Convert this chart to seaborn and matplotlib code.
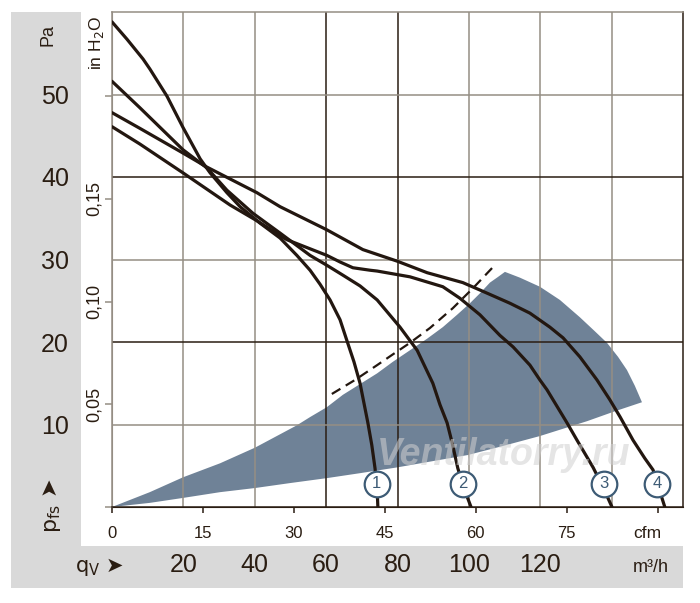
import matplotlib
matplotlib.use("Agg")
import matplotlib.pyplot as plt
from matplotlib.patches import Rectangle
import seaborn as sns
import pandas as pd

# fan curves: flow q in m³/h, pressure p in Pa
c1_q = [0, 4.2, 8.7, 10.6, 15.4, 19.9, 24.7, 27.5, 32.2, 35.9, 41.5, 47.1, 51.8, 55.5, 58.3,
        61.1, 63.9, 65.8, 67.8, 69.5, 70.6, 71.7, 72.8, 73.7, 74.3, 74.5]
c1_p = [58.8, 56.7, 54.3, 53.1, 49.8, 46.0, 42.2, 40.5, 38.1, 36.4, 34.4, 32.6, 30.5, 28.7, 27.0,
        25.1, 22.7, 20.2, 17.6, 15.0, 12.6, 10.2, 7.5, 4.7, 2.1, 0]
c2_q = [0, 7.8, 19.9, 26.6, 32.2, 39.5, 47.1, 55.5, 60.2, 64.7, 69.5, 74.3, 80.7, 85.5, 89.9,
        91.9, 93.9, 95.3, 96.9, 98.6, 100.6]
c2_p = [51.6, 48.4, 43.3, 41.1, 38.4, 35.6, 33.2, 30.5, 29.3, 28.1, 26.8, 25.1, 21.8, 19.0, 15.0,
        12.4, 10.2, 7.8, 4.7, 2.3, 0]
c3_q = [0, 7.8, 19.9, 33.1, 40.6, 47.1, 49.0, 60.2, 63.9, 67.5, 72.3, 74.3, 83.5, 92.7, 97.5,
        103.1, 108.7, 112.4, 117.1, 119.9, 121.9, 127.5, 130.3, 134.8, 137.6, 140.1]
c3_p = [46.1, 44.0, 40.5, 36.6, 34.7, 32.9, 32.4, 30.5, 29.7, 29.0, 28.7, 28.6, 27.9, 26.7, 25.3,
        23.3, 20.8, 19.4, 17.2, 15.4, 14.2, 10.2, 8.1, 4.8, 2.4, 0]
c4_q = [0, 7.8, 19.9, 26.6, 40.6, 47.1, 60.2, 70.3, 79.9, 88.3, 98.3, 103.1, 111.5, 117.1, 122.7,
        126.4, 131.1, 135.9, 139.5, 142.4, 146.0, 149.3, 151.6, 152.7, 154.9]
c4_p = [47.8, 45.9, 42.9, 41.2, 38.1, 36.4, 33.6, 31.2, 29.8, 28.4, 27.2, 26.3, 24.7, 23.5, 21.8,
        20.5, 18.2, 15.4, 13.0, 10.9, 8.1, 5.9, 4.5, 3.0, 0]

# shaded operating range: upper edge, outer arc, lower edge back to origin
area_q = [0, 10.6, 19.9, 30.3, 40.1, 47.9, 51.8, 55.5, 60.2, 64.7, 69.5, 74.3, 78.7, 83.5, 88.3,
          92.7, 96.7, 100.3, 103.1, 105.9, 108.2, 110.1,
          114.3, 119.9, 125.5, 131.1, 135.3, 138.7, 141.8, 144.3, 146.5, 148.5,
          140.9, 133.1, 119.9, 108.7, 99.7, 89.1, 79.9, 69.5, 60.2, 49.9, 40.1, 30.3, 19.9, 10.6, 0]
area_p = [0, 1.8, 3.6, 5.3, 7.2, 9.0, 9.9, 10.9, 12.1, 13.6, 14.9, 16.2, 17.6, 19.0, 20.4,
          21.8, 23.3, 24.7, 25.9, 27.2, 27.9, 28.5,
          27.8, 26.7, 25.1, 23.0, 21.3, 19.9, 18.2, 16.6, 14.7, 12.7,
          11.6, 10.4, 8.6, 7.3, 6.3, 5.5, 4.8, 4.1, 3.5, 2.9, 2.3, 1.8, 1.1, 0.5, 0]

# dashed limit line
dash_q = [61.6, 68.1, 74.3, 78.7, 83.5, 89.1, 95.5, 101.1, 106.8]
dash_p = [13.7, 15.4, 17.2, 18.5, 19.9, 21.7, 24.1, 26.5, 29.1]

# curve number markers
label_txt = ["1", "2", "3", "4"]
label_q = [74.2, 98.3, 137.9, 152.7]
label_p = [2.8, 2.8, 2.8, 2.8]

pa_ticks = [10, 20, 30, 40, 50]
q_ticks = [20, 40, 60, 80, 100, 120]
cfm_ticks = [0, 15, 30, 45, 60, 75, 90]
cfm_labels = ["0", "15", "30", "45", "60", "75", ""]
inh_ticks = [0, 0.05, 0.10, 0.15, 0.20]
inh_labels = ["", "0,05", "0,10", "0,15", ""]

CFM = 1.699      # m³/h per cfm
INH2O = 249.09   # Pa per inch of water

dark = "#2a1d12"
grey = "#958e84"
blue = "#3d5b75"
fill = "#6f8297"
sans = ["Liberation Sans", "DejaVu Sans"]

sns.set_style("white")
plt.rcParams["font.family"] = ["Liberation Sans Narrow", "Liberation Sans", "DejaVu Sans"]

fig = plt.figure(figsize=(7, 6.03), dpi=100)
W, H = 700, 603
fig.add_artist(Rectangle((11 / W, 1 - 588 / H), 672 / W, 576 / H, transform=fig.transFigure,
                         color="#d9d9d9", lw=0, zorder=-10))
fig.add_artist(Rectangle((81 / W, 1 - 546 / H), 602 / W, 534 / H, transform=fig.transFigure,
                         color="white", lw=0, zorder=-9))

ax = fig.add_axes([112 / W, 1 - 507 / H, 571 / W, 495 / H])
ax.set_facecolor("white")

ax.fill(area_q, area_p, color=fill, lw=0, zorder=1)

for q in range(20, 160, 20):
    ax.axvline(q, color=dark if q in (60, 80) else grey, lw=1.1, zorder=2)
for p in range(10, 60, 10):
    ax.axhline(p, color=dark if p in (20, 40) else grey, lw=1.1, zorder=2)

curves = pd.concat([
    pd.DataFrame({"curve": n, "q": q, "p": p})
    for n, q, p in [(1, c1_q, c1_p), (2, c2_q, c2_p), (3, c3_q, c3_p), (4, c4_q, c4_p)]
])
sns.lineplot(data=curves, x="q", y="p", units="curve", estimator=None, sort=False,
             color="#231710", lw=2.3, ax=ax, zorder=3,
             solid_joinstyle="round", solid_capstyle="round")
sns.lineplot(x=dash_q, y=dash_p, sort=False, color="#231710", lw=1.6, ax=ax, zorder=3)
ax.lines[-1].set_dashes((4.5, 2.8))

ax.text(109.8, 6.3, "Ventilatorry.ru", fontsize=27, style="italic", weight="bold",
        family=sans, color="#d0d0d0", alpha=0.55, ha="center", va="center", zorder=4)

sns.scatterplot(x=label_q, y=label_p, s=340, marker="o", color="white",
                edgecolor=blue, linewidth=1.6, ax=ax, zorder=5, clip_on=False)
for t, q, p in zip(label_txt, label_q, label_p):
    ax.text(q, p, t, color=blue, fontsize=12, ha="center", va="center", zorder=6, family=sans)

ax.set_xlim(0, 160)
ax.set_ylim(0, 60)
ax.set_xlabel("")
ax.set_ylabel("")

# main scales in the grey band
ax.set_yticks(pa_ticks)
ax.set_yticklabels([str(v) for v in pa_ticks])
ax.set_xticks(q_ticks)
ax.set_xticklabels([str(v) for v in q_ticks])
ax.tick_params(axis="y", length=0, pad=31, labelsize=18, labelcolor=dark)
ax.tick_params(axis="x", length=0, pad=33, labelsize=18, labelcolor=dark)

for side, col in [("left", grey), ("top", grey), ("bottom", dark), ("right", dark)]:
    ax.spines[side].set_color(col)
    ax.spines[side].set_linewidth(1.1)
    ax.spines[side].set_visible(True)

# secondary scales inside the white frame
sx = ax.secondary_xaxis("bottom", functions=(lambda q: q / CFM, lambda c: c * CFM))
sx.set_xticks(cfm_ticks)
sx.set_xticklabels(cfm_labels)
sx.tick_params(length=4, width=1.1, color=dark, pad=10, labelsize=12, labelcolor=dark)
sx.spines["bottom"].set_color(dark)
for lab in sx.get_xticklabels():
    lab.set_family(sans)

sy = ax.secondary_yaxis("left", functions=(lambda p: p / INH2O, lambda h: h * INH2O))
sy.set_yticks(inh_ticks)
sy.set_yticklabels(inh_labels)
sy.tick_params(length=5, width=1.1, color=grey, pad=2, labelsize=13, labelcolor=dark,
               labelrotation=90)
sy.spines["left"].set_color(grey)
for lab in sy.get_yticklabels():
    lab.set_family(sans)
    lab.set_va("center")

# unit labels
fig.text(48 / W, 1 - 35 / H, "Pa", rotation=90, fontsize=13, color=dark, ha="center", va="center")
fig.text(96 / W, 1 - 43 / H, r"in H$_2$O", rotation=90, fontsize=12.5, color=dark,
         ha="center", va="center")
fig.text(647 / W, 1 - 533 / H, "cfm", fontsize=12.5, color=dark, ha="center", va="center")
fig.text(651 / W, 1 - 568 / H, "m³/h", fontsize=13, color=dark, ha="center", va="center")
fig.text(52 / W, 1 - 505 / H, r"p$_{\mathrm{fs}}$ ➤", rotation=90, fontsize=16, color=dark,
         ha="center", va="center", family=["Liberation Sans Narrow", "DejaVu Sans"])
fig.text(100 / W, 1 - 567 / H, r"q$_{\mathrm{V}}$ ➤", fontsize=15, color=dark,
         ha="center", va="center", family=["Liberation Sans Narrow", "DejaVu Sans"])

fig.savefig("out.png", dpi=100)
